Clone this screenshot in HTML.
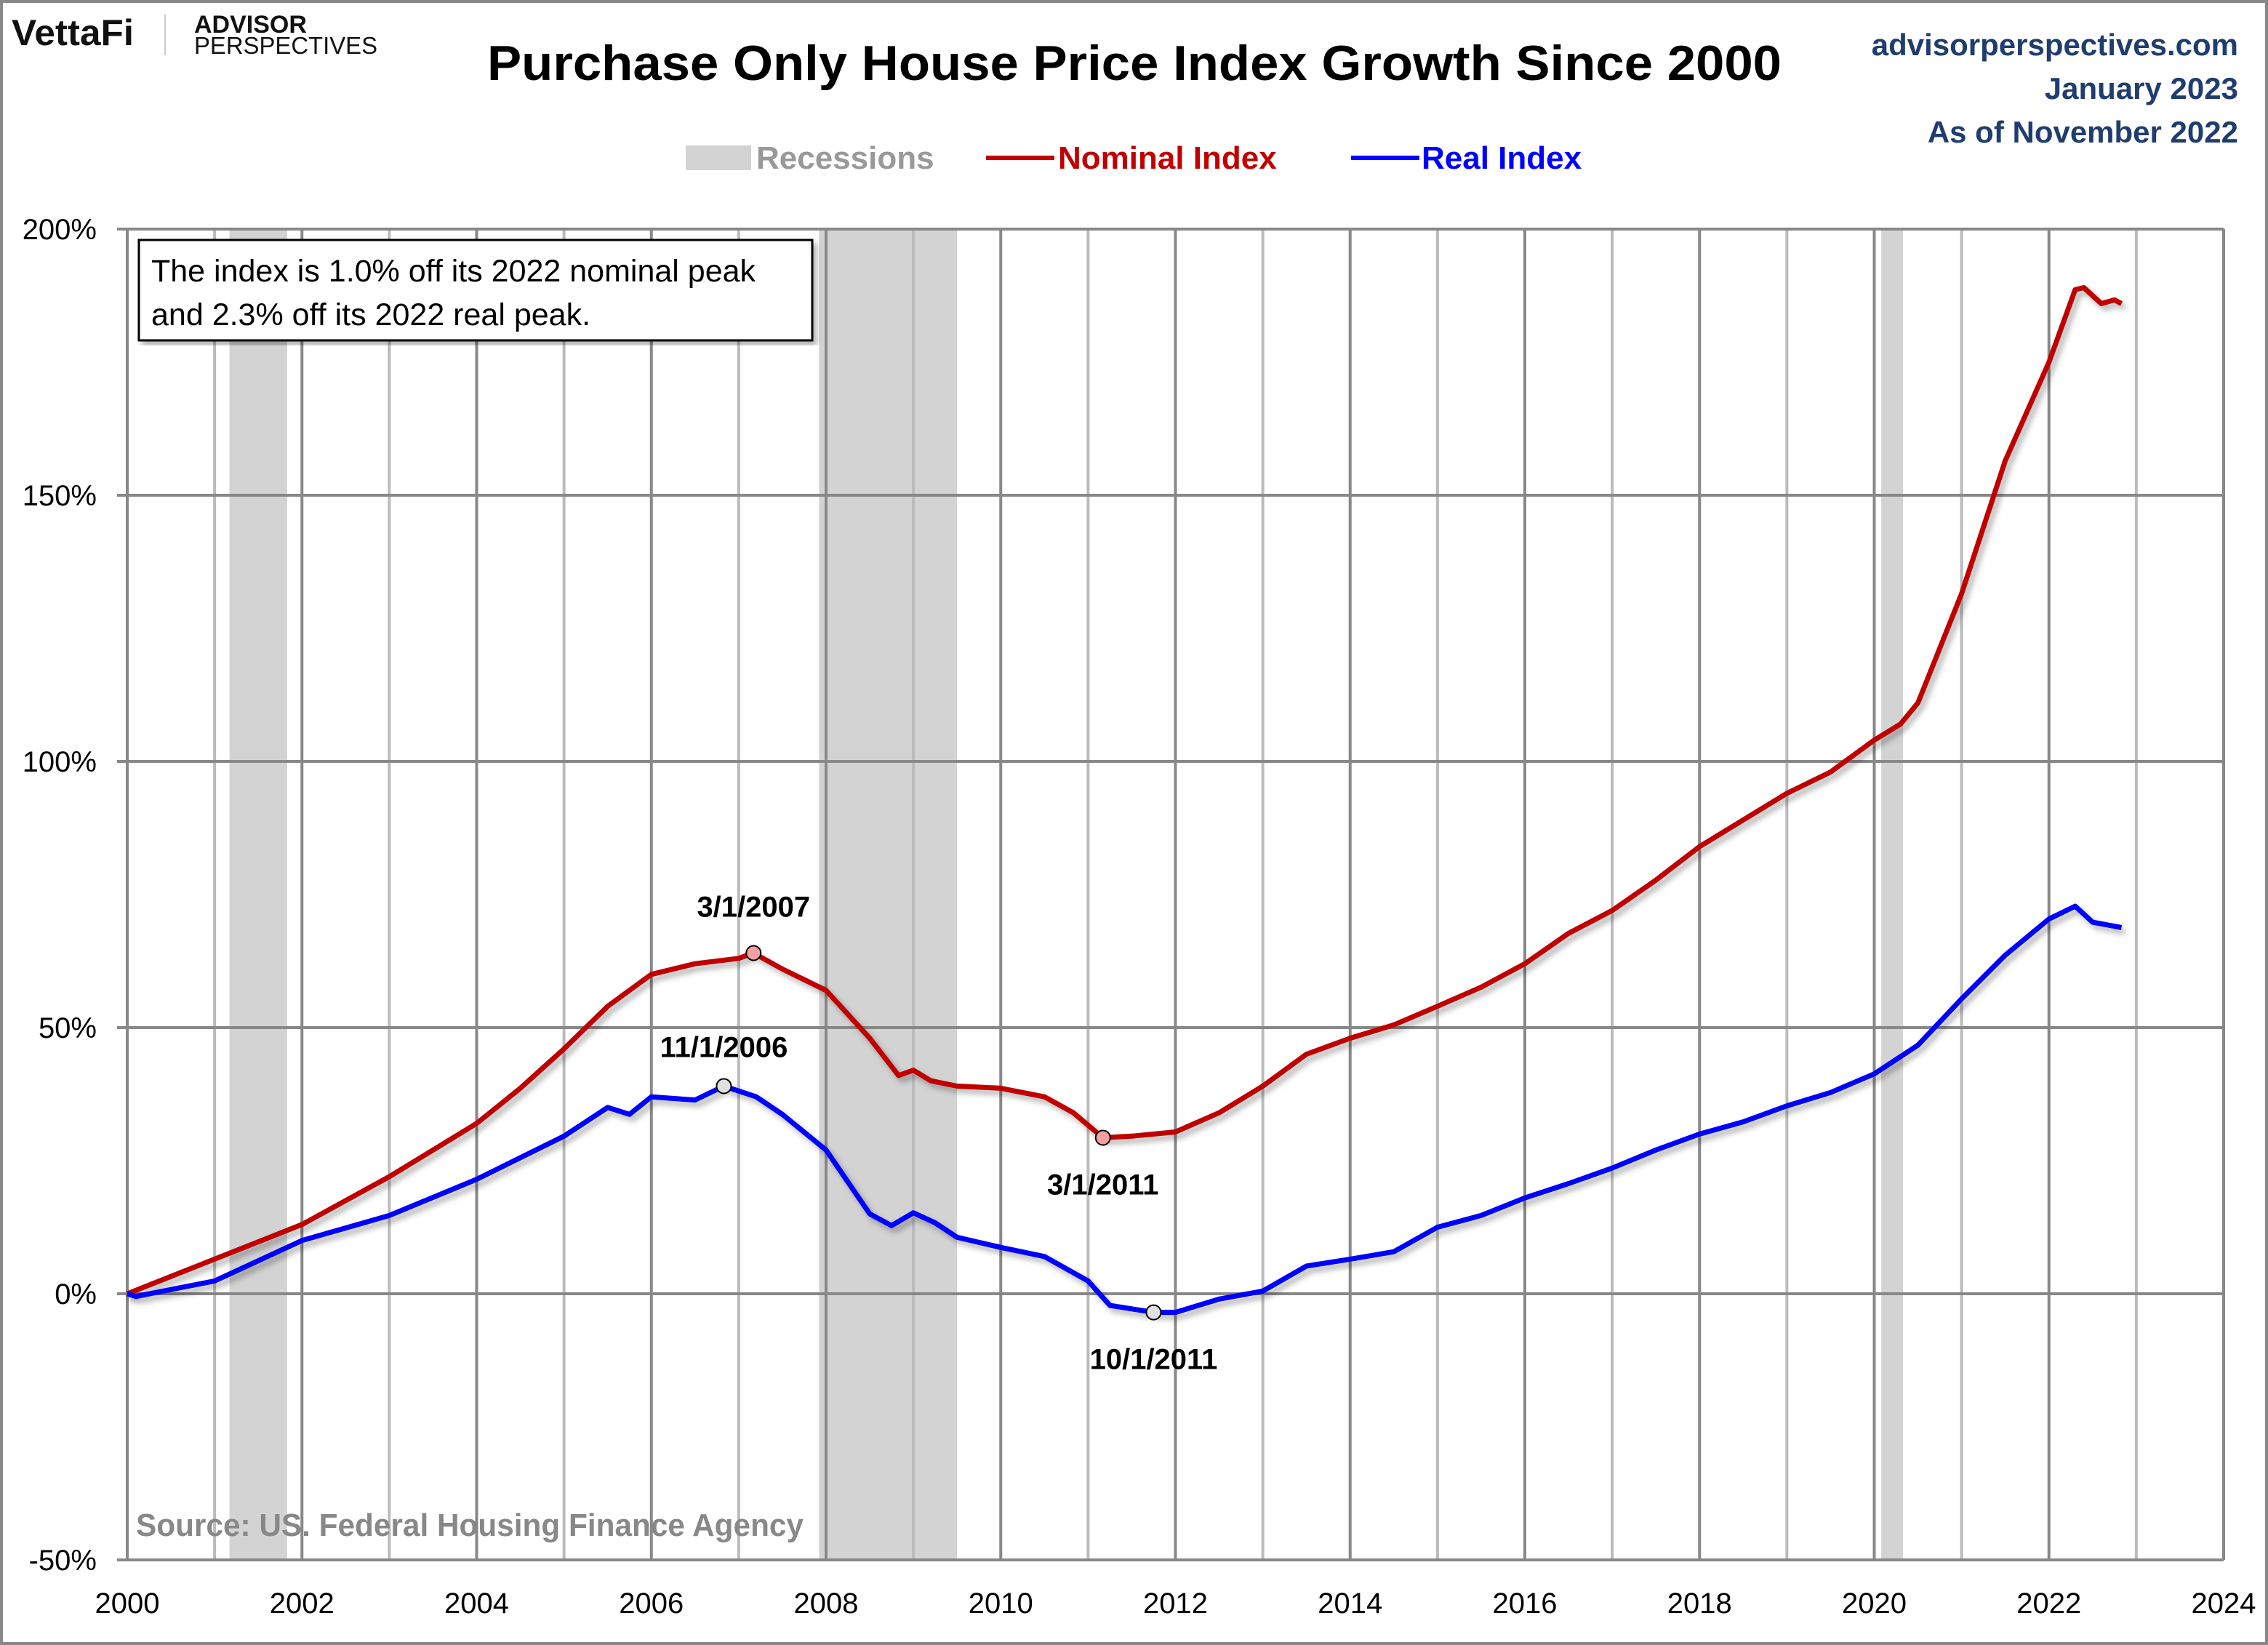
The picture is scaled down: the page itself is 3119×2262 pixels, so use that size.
<!DOCTYPE html>
<html><head><meta charset="utf-8"><style>
html,body{margin:0;padding:0;background:#fff}
svg{display:block;font-family:"Liberation Sans",sans-serif}
</style></head><body>
<svg id="c" width="3119" height="2262" viewBox="0 0 3119 2262">
<defs><filter id="sh" x="-5%" y="-5%" width="110%" height="110%"><feDropShadow dx="5" dy="6" stdDeviation="4" flood-color="#000" flood-opacity="0.3"/></filter></defs>
<rect x="2" y="2" width="3115" height="2258" fill="#fff" stroke="#888" stroke-width="4"/>
<g>
<text x="16" y="62" font-size="50" font-weight="bold" fill="#111" textLength="168" lengthAdjust="spacingAndGlyphs">VettaFi</text>
<line x1="227" y1="20" x2="227" y2="76" stroke="#ccc" stroke-width="2"/>
<text x="267" y="45" font-size="34" font-weight="bold" fill="#111">ADVISOR</text>
<text x="267" y="74" font-size="33" fill="#111" textLength="252" lengthAdjust="spacingAndGlyphs">PERSPECTIVES</text>
</g>
<text x="1560" y="110" font-size="68" font-weight="bold" text-anchor="middle" textLength="1780" lengthAdjust="spacingAndGlyphs">Purchase Only House Price Index Growth Since 2000</text>
<g font-size="42" font-weight="bold" fill="#1f3d6e" text-anchor="end">
<text x="3078" y="76">advisorperspectives.com</text>
<text x="3078" y="136">January 2023</text>
<text x="3078" y="196">As of November 2022</text>
</g>
<g font-size="44" font-weight="bold">
<rect x="943" y="200" width="90" height="34" fill="#d3d3d3"/>
<text x="1040" y="232" fill="#999">Recessions</text>
<line x1="1356" y1="217" x2="1450" y2="217" stroke="#c00000" stroke-width="6"/>
<text x="1455" y="232" fill="#c00000">Nominal Index</text>
<line x1="1858" y1="217" x2="1952" y2="217" stroke="#0000ff" stroke-width="6"/>
<text x="1955" y="232" fill="#0000ff">Real Index</text>
</g>
<g id="plot"></g>
<g filter="url(#sh)">
<rect x="191" y="330" width="926" height="138" fill="#fff" stroke="#000" stroke-width="3"/>
</g>
<text x="208" y="387" font-size="43">The index is 1.0% off its 2022 nominal peak</text>
<text x="208" y="447" font-size="43">and 2.3% off its 2022 real peak.</text>
<text x="187" y="2112" font-size="44" font-weight="bold" fill="#888" textLength="918" lengthAdjust="spacingAndGlyphs">Source: US. Federal Housing Finance Agency</text>
</svg>
<script>
const recessions=[[2001.17,2001.83],[2007.92,2009.5],[2020.08,2020.33]];
const yTicks=[-50,0,50,100,150,200];
const xTicks=[2000,2002,2004,2006,2008,2010,2012,2014,2016,2018,2020,2022,2024];
const nomX=[2000,2001,2002,2003,2004,2004.5,2005,2005.5,2006,2006.5,2007,2007.17,2007.5,2008,2008.5,2008.83,2009,2009.2,2009.5,2010,2010.5,2010.83,2011.17,2011.5,2012,2012.5,2013,2013.5,2014,2014.5,2015,2015.5,2016,2016.5,2017,2017.5,2018,2018.5,2019,2019.5,2020,2020.3,2020.5,2021,2021.5,2022,2022.3,2022.4,2022.6,2022.75,2022.83];
const nomY=[0,6.5,13,22,32,38.6,46,54,60,62,63,64,61,57,48,41,42,40,39,38.6,37,34,29.3,29.6,30.4,34,39,45,48,50.5,54,57.6,62,67.7,72,77.7,84,89,94,98,104,107,111,131.5,156.5,175,188.6,189,186,186.7,186];
const realX=[2000,2000.1,2001,2002,2003,2004,2005,2005.5,2005.75,2006,2006.5,2006.83,2007.2,2007.5,2008,2008.5,2008.75,2009,2009.25,2009.5,2010,2010.5,2011,2011.25,2011.75,2012,2012.5,2013,2013.5,2014,2014.5,2015,2015.5,2016,2016.5,2017,2017.5,2018,2018.5,2019,2019.5,2020,2020.5,2021,2021.5,2022,2022.3,2022.5,2022.83];
const realY=[0,-0.5,2.4,10,14.7,21.5,29.6,35,33.7,37,36.4,39,37,33.7,27,15,12.8,15.2,13.3,10.6,8.7,7,2.4,-2.2,-3.5,-3.5,-1,0.5,5.2,6.5,7.9,12.5,14.7,18,20.7,23.6,27,30,32.3,35.3,37.8,41.3,46.7,55.4,63.6,70.4,72.8,69.8,68.8];
const markX=[2007.17,2011.17,2006.83,2011.75];
const markY=[64,29.3,39,-3.5];
const markLabels=["3/1/2007","3/1/2011","11/1/2006","10/1/2011"];
const L=175,R=3058,T=315,B=2145;
const sx=v=>L+(v-2000)/24*(R-L);
const sy=v=>B-(v+50)/250*(B-T);
const NS="http://www.w3.org/2000/svg";
const g=document.getElementById('plot');
function el(t,a,p){const e=document.createElementNS(NS,t);for(const k in a)e.setAttribute(k,a[k]);(p||g).appendChild(e);return e;}
for(const r of recessions){const e=el('rect',{x:sx(r[0]),y:T,width:sx(r[1])-sx(r[0]),height:B-T,fill:'#d3d3d3'});

}
for(let yr=2000;yr<=2024;yr++){const e=el('line',{x1:sx(yr),x2:sx(yr),y1:T,y2:B,stroke:yr%2?'#bbb':'#888',"stroke-width":4});

}
for(const v of yTicks){const e=el('line',{x1:L-14,x2:R,y1:sy(v),y2:sy(v),stroke:'#888',"stroke-width":4});


const t=el('text',{x:133,y:sy(v)+14,"font-size":40,"text-anchor":"end"});t.textContent=v+'%';

}
for(const v of xTicks){const t=el('text',{x:sx(v),y:2218,"font-size":40,"text-anchor":"middle"});t.textContent=v;

}
function line(xs,ys,c,name){const d=xs.map((x,i)=>(i?'L':'M')+sx(x).toFixed(1)+','+sy(ys[i]).toFixed(1)).join('');
const p=el('path',{d:d,fill:'none',stroke:c,"stroke-width":7,"stroke-linejoin":"round",filter:"url(#sh)"});

}
line(nomX,nomY,'#c00000','nominal-index-line');
line(realX,realY,'#0000ff','real-index-line');
const lblOff=[-50,78,-40,78];
markX.forEach((x,i)=>{const c=el('circle',{cx:sx(x),cy:sy(markY[i]),r:10,fill:i<2?'#f4a0a0':'#e0e0e0',stroke:'#000',"stroke-width":2});


const t=el('text',{x:sx(x),y:sy(markY[i])+lblOff[i],"font-size":40,"font-weight":"bold","text-anchor":"middle"});t.textContent=markLabels[i];

});
</script>
</body></html>
